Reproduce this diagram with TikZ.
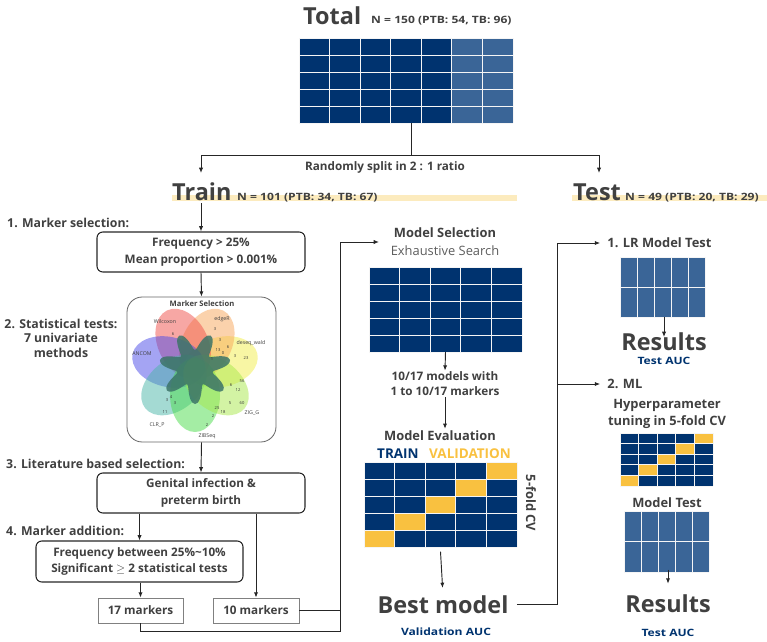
\documentclass[tikz,border=0pt]{standalone}
\usepackage{fontspec}
\setmainfont{Open Sans}
\newfontfamily\widesans[FakeStretch=1.2]{Open Sans}
\usepackage{tikz}
\usetikzlibrary{calc}
\usetikzlibrary{arrows.meta}
\usetikzlibrary{positioning}
\tikzset{>={Latex[length=4.5pt,width=3.6pt]}}
\usepackage{xcolor}
\definecolor{navy}{HTML}{00336F}
\definecolor{steel}{HTML}{3A6597}
\definecolor{gold}{HTML}{F9C140}
\definecolor{band}{HTML}{FCEBBE}
\definecolor{ink}{HTML}{404040}
\definecolor{wirecol}{HTML}{262626}
\definecolor{pwil}{HTML}{F0504A}
\definecolor{pedg}{HTML}{F8A65A}
\definecolor{pdes}{HTML}{F2EE4A}
\definecolor{pzig}{HTML}{A8E84A}
\definecolor{pzib}{HTML}{4ADB4A}
\definecolor{pclr}{HTML}{4AB5A8}
\definecolor{panc}{HTML}{4A4AE8}
\definecolor{core}{HTML}{3C7468}
\def\px{0.03cm}

\tikzset{
  big/.style={font=\bfseries\fontsize{20}{24}\selectfont, text=ink, inner sep=0pt},
  head/.style={font=\bfseries\fontsize{11}{14.5}\selectfont, text=ink, inner sep=1pt},
  lbl/.style={font=\bfseries\fontsize{10.5}{12.4}\selectfont, text=ink, inner sep=0pt},
  boxtxt/.style={font=\bfseries\fontsize{10}{14.4}\selectfont, text=ink, align=center},
  note/.style={font=\widesans\bfseries\fontsize{8.6}{10}\selectfont, inner sep=0pt},
  rbox/.style={draw=wirecol, line width=0.9pt, rounded corners=5pt, boxtxt, inner sep=0pt},
  mbox/.style={draw=gray, line width=0.7pt, boxtxt, inner sep=0pt},
  link/.style={draw=wirecol, line width=0.8pt},
  cells/.style 2 args={fill=navy, inner sep=0pt, outer sep=0pt,
    minimum width=#1*\px, minimum height=#2*\px},
  cellline/.style={white!92!gray, line width=0.8pt},
  vennlbl/.style={font=\fontsize{4.5}{5}\selectfont, text=black!75, inner sep=0pt},
  vennnum/.style={font=\fontsize{3.5}{4}\selectfont, text=black!80, inner sep=0pt},
}

% white lines over a block of cells: node, columns, rows
\newcommand\cellgrid[3]{%
  \foreach \k in {0,...,#2}
    \draw[cellline] ($(#1.north west)!{\k/#2}!(#1.north east)$) -- ($(#1.south west)!{\k/#2}!(#1.south east)$);
  \foreach \k in {0,...,#3}
    \draw[cellline] ($(#1.north west)!{\k/#3}!(#1.south west)$) -- ($(#1.north east)!{\k/#3}!(#1.south east)$);
}

\begin{document}
\begin{tikzpicture}[x=\px,y=-\px]
	\useasboundingbox (0,0) rectangle (767,641);
	
	% BANDS
	\fill[band] (172,195) rectangle (517,201);
	\fill[band] (572,195) rectangle (767,201);
	
	% TOTAL
	\node[big,anchor=base west] (total) at (303,24) {Total};
	\node[note,text=ink,anchor=base west] (totalN) at (371,23) {N = 150 (PTB: 54, TB: 96)};
	\node[cells={214}{85}] (allgrid) at (406,80.5) {};
	\fill[steel] ($(allgrid.north west)!{5/7}!(allgrid.north east)$) rectangle (allgrid.south east);
	\cellgrid{allgrid}{7}{5}
	
	% SPLIT
	\coordinate (fork) at (411,155);
	\coordinate (trainin) at (201,173);
	\coordinate (testin) at (599,173);
	\draw[link] (fork |- allgrid.south) -- (fork);
	\draw[link,->] (fork) -| (trainin);
	\draw[link,->] (fork) -| (testin);
	\node[lbl,font=\bfseries\fontsize{10}{12}\selectfont,anchor=base] (split) at (385,170) {Randomly split in 2 : 1 ratio};
	
	\node[big,anchor=base west] (train) at (172,200) {Train};
	\node[note,text=ink,anchor=base west] (trainN) at (237,200) {N = 101 (PTB: 34, TB: 67)};
	\node[big,anchor=base west] (test) at (573,200) {Test};
	\node[note,text=ink,anchor=base west] (testN) at (625,200) {N = 49 (PTB: 20, TB: 29)};
	
	% TRAIN COLUMN
	\coordinate (trainout) at (202,203);
	\node[lbl,anchor=base west] (step1) at (7,227) {1. Marker selection:};
	\node[rbox,minimum width=208*\px,minimum height=40*\px] (filt) at (201,252)
	{Frequency > 25\%\\Mean proportion > 0.001\%};
	\draw[link,->] (filt.north |- trainout) -- (filt.north);
	
	\node[draw=gray!80!black,line width=0.7pt,rounded corners=13pt,
	minimum width=149*\px,minimum height=145*\px] (venn) at (201.5,369.5) {};
	\draw[link,->] (filt.south) -- (venn.north);
	\coordinate (vc) at (195,368);
	\foreach \ang/\col in {13/pdes,64/pedg,116/pwil,167/panc,219/pclr,270/pzib,321/pzig}
	\fill[\col,fill opacity=0.5,rotate around={\ang:(vc)}] ($(vc)+(27,0)$) ellipse [x radius=37,y radius=25];
	\fill[core,fill opacity=0.85] plot[smooth cycle,variable=\t,samples=84,domain=0:355.7]
	({195+(27+9*cos(7*(\t-13)))*cos(\t)},{368-(27+9*cos(7*(\t-13)))*sin(\t)});
	\node[font=\bfseries\fontsize{6.5}{8}\selectfont,text=ink] (venntitle) at (202,304) {Marker Selection};
	\foreach \t/\x/\y [count=\i] in {Wilcoxon/165/322,edgeR/222/319,deseq\_wald/251/343,
		ANCOM/142/354,ZIG\_G/252/413,ZIBSeq/207/436,CLR\_P/157/425}
	\node[vennlbl] (vl\i) at (\x,\y) {\t};
	\foreach \t/\x/\y [count=\i] in {6/173/334,3/215/329,3/220/340,6/228/347,13/218/350,
		0/223/353,1/212/359,3/235/356,23/246/358,56/242/381,6/231/385,12/238/390,
		60/242/403,5/230/403,25/217/408,18/223/412,2/213/416,2/207/425,
		3/167/400,4/171/397,3/175/403,11/165/412}
	\node[vennnum] (vn\i) at (\x,\y) {\t};
	
	\node[lbl,align=center] (step2) at (61,338) {2. Statistical tests:\\7 univariate\\methods};
	
	\node[lbl,anchor=base west] (step3) at (6,468) {3. Literature based selection:};
	\node[rbox,minimum width=208*\px,minimum height=40*\px] (lit) at (201,493)
	{Genital infection \&\\preterm birth};
	\draw[link,->] (venn.south) -- (lit.north);
	
	\node[lbl,anchor=base west] (step4) at (6,535) {4. Marker addition:};
	\node[rbox,minimum width=207*\px,minimum height=41*\px] (addn) at (139.5,561.5)
	{Frequency between 25\%\textasciitilde10\%\\Significant $\geq$ 2 statistical tests};
	\node[mbox,minimum width=85*\px,minimum height=25*\px] (m17) at (140.5,610.5) {17 markers};
	\node[mbox,minimum width=86*\px,minimum height=25*\px] (m10) at (256,610.5) {10 markers};
	\draw[link,->] (lit.south -| addn.north) -- (addn.north);
	\draw[link,->] (lit.south -| m10.north) -- (m10.north);
	\draw[link,->] (m17.north |- addn.south) -- (m17.north);
	
	\coordinate (railbot) at (340,631);
	\coordinate (railtop) at (340,242);
	\coordinate (mselin) at (379,242);
	\draw[link] (m10.east) -- (m10.east -| railbot);
	\draw[link,->] (m17.south) |- (railbot) -- (railtop) -- (mselin);
	
	% MODEL SELECTION
	\node[head,anchor=base] (msel) at (445,237) {Model Selection};
	\node[font=\fontsize{11}{13}\selectfont,text=ink!85,anchor=base,inner sep=1pt] (mexh) at (445,255) {Exhaustive Search};
	\node[cells={153}{85}] (msgrid) at (445.5,309.5) {};
	\cellgrid{msgrid}{5}{5}
	\node[boxtxt,font=\bfseries\fontsize{10}{12.75}\selectfont,inner sep=1pt] (mtxt) at (445,384)
	{10/17 models with\\1 to 10/17 markers};
	\draw[link,->] (msgrid.south) -- (mtxt.north);
	
	\node[head,anchor=base] (meval) at (440,440) {Model Evaluation};
	\draw[link,->] (mtxt.south) -- (mtxt.south |- meval.north);
	\node[font=\bfseries\fontsize{11.5}{14}\selectfont,text=navy,anchor=base west,inner sep=0pt] (trn) at (377,458) {TRAIN};
	\node[font=\bfseries\fontsize{11.5}{14}\selectfont,text=gold,anchor=base west,inner sep=0pt] (val) at (429,458) {VALIDATION};
	\node[cells={153}{85}] (cvgrid) at (440.5,504.5) {};
	\foreach \r in {0,...,4}
	\fill[gold] ($(cvgrid.north west)+({(4-\r)*30.6},{\r*17})$) rectangle +(30.6,17);
	\cellgrid{cvgrid}{5}{5}
	\node[head,rotate=-90] (cvlbl) at (531,503) {5-fold CV};
	
	\node[big,anchor=base] (best) at (443,613) {Best model};
	\draw[link,->,shorten >=6pt] ([yshift=-4pt]cvgrid.south) -- (best.north);
	\node[note,text=navy] (valauc) at (446,632) {Validation AUC};
	
	% TEST COLUMN
	\coordinate (rtop) at (557,243);
	\coordinate (rmid) at (557,384);
	\node[head,anchor=base west] (lrhead) at (606,247) {1. LR Model Test};
	\node[head,anchor=base west] (mlhead) at (606,388) {2. ML};
	\draw[link,shorten <=7pt] (best.east) -| (rtop);
	\draw[link,->,shorten >=5pt] (rtop) -- (rtop -| lrhead.west);
	\draw[link,->,shorten >=5pt] (rmid) -- (rmid -| mlhead.west);
	
	\node[cells={85}{60},fill=steel] (lrgrid) at (662.5,287) {};
	\cellgrid{lrgrid}{5}{2}
	\node[big,anchor=base] (lrres) at (664,350) {Results};
	\draw[link,->] (lrres.north |- lrgrid.south) -- ++(0,20);
	\node[note,text=navy] (lrauc) at (664,361) {Test AUC};
	
	\node[head,align=center] (hyper) at (667,414) {Hyperparameter\\tuning in 5-fold CV};
	\node[cells={93}{53}] (hpgrid) at (666.5,459.5) {};
	\foreach \r in {0,...,4}
	\fill[gold] ($(hpgrid.north west)+({(4-\r)*18.6},{\r*10.6})$) rectangle +(18.6,10.6);
	\cellgrid{hpgrid}{5}{5}
	
	\node[head,anchor=base] (mtest) at (667,507) {Model Test};
	\node[cells={85}{61},fill=steel] (mtgrid) at (666.5,541.5) {};
	\cellgrid{mtgrid}{5}{2}
	\node[big,anchor=base] (mlres) at (668,612) {Results};
	\draw[link,->] ([yshift=2pt]mlres.north |- mtgrid.south) -- ++(0,14);
	\node[note,text=navy] (mlauc) at (668,633) {Test AUC};
\end{tikzpicture}
\end{document}
